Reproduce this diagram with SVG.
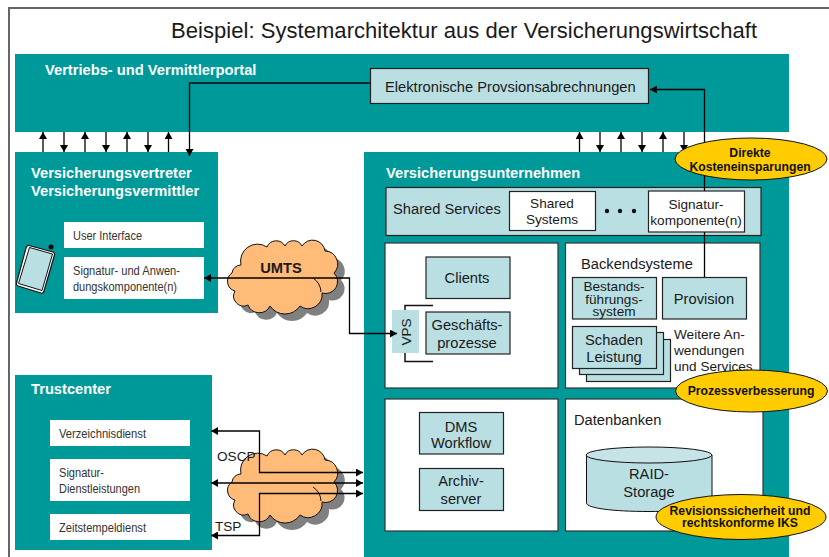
<svg xmlns="http://www.w3.org/2000/svg" xmlns:xlink="http://www.w3.org/1999/xlink" width="829" height="557" viewBox="0 0 829 557">
<style>
text{font-family:"Liberation Sans",Arial,sans-serif;fill:#1a1a1a;font-size:14.7px}
.t{fill:#009999}
.w{fill:#fff}
.b{fill:#b9dfe2;stroke:#222;stroke-width:1.2}
.p{fill:#fff;stroke:#333;stroke-width:1.2}
.h{fill:#fff;font-weight:bold;font-size:14.7px}
.s{font-size:13px;fill:#333}
.n{font-size:13.6px}
.m{text-anchor:middle}
.y{fill:#ffcc00;stroke:#111;stroke-width:1}
.yt{font-weight:bold;font-size:12.2px;text-anchor:middle;fill:#111}
.c{fill:none;stroke:#000;stroke-width:1.3}
</style>
<defs>
<marker id="a" markerUnits="userSpaceOnUse" markerWidth="8" markerHeight="8" refX="7" refY="4" orient="auto-start-reverse"><path d="M0 0L7 4L0 8z" fill="#000"/></marker>
<path id="cloud" d="M1 31A9 9 0 0 1 10 23A17 17 0 0 1 36 5A10 10 0 0 1 54 4A9.500 9.500 0 0 1 71 4A12.500 12.500 0 0 1 94 9A13 13 0 0 1 103 31A12 12 0 0 1 91 51A14 14 0 0 1 69 64A18 18 0 0 1 39 64A12 12 0 0 1 17 63A10 10 0 0 1 4 49A10 10 0 0 1 1 31Z"/>
</defs>
<rect width="829" height="557" fill="#fff"/>
<path id="frame" d="M829 8H9V557" fill="none" stroke="#666" stroke-width="2"/>
<text x="171" y="38" style="font-size:22px" textLength="586">Beispiel: Systemarchitektur aus der Versicherungswirtschaft</text>

<g id="portal">
<rect class="t" x="15" y="54" width="774" height="78"/>
<text class="h" x="45" y="75">Vertriebs- und Vermittlerportal</text>
</g>
<g id="provisionsabrechnungen">
<rect class="b" x="370.500" y="68.500" width="278" height="35"/>
<text x="385" y="92">Elektronische Provsionsabrechnungen</text>
</g>

<g id="vertreter">
<rect class="t" x="15" y="152" width="203" height="161"/>
<text class="h" x="31" y="178">Versicherungsvertreter</text>
<text class="h" x="31" y="196">Versicherungsvermittler</text>
<rect class="w" x="64" y="222" width="140" height="26"/>
<text class="s" x="73" y="240" textLength="69" lengthAdjust="spacingAndGlyphs">User Interface</text>
<rect class="w" x="64" y="257" width="140" height="42"/>
<text class="s" x="73" y="275" textLength="107" lengthAdjust="spacingAndGlyphs">Signatur- und Anwen-</text>
<text class="s" x="73" y="291" textLength="104" lengthAdjust="spacingAndGlyphs">dungskomponente(n)</text>
</g>
<g id="phone">
<circle cx="51" cy="247" r="2.500" fill="#000"/>
<path d="M29 245.500L53 252Q55 253 54.500 255L44 291Q43 294 41 293L18 286Q16 285 16.500 283L26 248Q27 245 29 245.500Z" fill="#fff" stroke="#111" stroke-width="1.200"/>
<path d="M29.500 247.500L52.500 254L42 290.500L18.500 283.500Z" fill="#b9dfe2" stroke="#111" stroke-width="1"/>
</g>

<g id="trustcenter">
<rect class="t" x="15" y="375" width="197" height="175"/>
<text class="h" x="31" y="394">Trustcenter</text>
<rect class="w" x="50" y="420" width="140" height="26"/>
<text class="s" x="59" y="438" textLength="87" lengthAdjust="spacingAndGlyphs">Verzeichnisdienst</text>
<rect class="w" x="50" y="459" width="140" height="42"/>
<text class="s" x="59" y="477" textLength="45" lengthAdjust="spacingAndGlyphs">Signatur-</text>
<text class="s" x="59" y="493" textLength="81" lengthAdjust="spacingAndGlyphs">Dienstleistungen</text>
<rect class="w" x="50" y="514" width="140" height="26"/>
<text class="s" x="59" y="532" textLength="87" lengthAdjust="spacingAndGlyphs">Zeitstempeldienst</text>
</g>

<g id="unternehmen">
<rect class="t" x="364" y="152" width="425" height="405"/>
<text class="h" x="386" y="178">Versicherungsunternehmen</text>
</g>
<g id="shared-services">
<rect class="b" x="386" y="187.500" width="375" height="48"/>
<text x="393" y="214">Shared Services</text>
<rect x="509.500" y="191.500" width="86" height="39" fill="#fff" stroke="#222" stroke-width="1.200"/>
<text class="m n" x="552" y="208">Shared</text>
<text class="m n" x="552" y="224">Systems</text>
<circle cx="607" cy="211" r="2.200" fill="#111"/><circle cx="620" cy="211" r="2.200" fill="#111"/><circle cx="634" cy="211" r="2.200" fill="#111"/>
<rect x="648.500" y="191" width="96" height="41" fill="#fff" stroke="#222" stroke-width="1.200"/>
<text class="m n" x="696" y="209">Signatur-</text>
<text class="m n" x="696" y="225">komponente(n)</text>
</g>
<g id="clients-panel">
<rect class="p" x="385" y="243" width="173" height="145"/>
<rect class="b" x="426" y="257" width="84" height="41.500"/>
<text class="m" x="467" y="283">Clients</text>
<rect class="b" x="426" y="312" width="84" height="42"/>
<text class="m" x="467" y="330">Geschäfts-</text>
<text class="m" x="467" y="348">prozesse</text>
<path d="M405 310V305.500H433M405 353V361.500H433" fill="none" stroke="#111" stroke-width="1.500"/>
<rect x="392" y="310" width="27" height="43" fill="#b9dfe2"/>
<text class="m n" transform="translate(411 332) rotate(-90)">VPS</text>
</g>
<g id="backend-panel">
<rect class="p" x="565.500" y="243" width="194.500" height="145"/>
<text x="581" y="269">Backendsysteme</text>
<rect class="b" x="572.500" y="277.500" width="84" height="41.500"/>
<text class="m n" x="614" y="291">Bestands-</text>
<text class="m n" x="614" y="304">führungs-</text>
<text class="m n" x="614" y="316">system</text>
<rect class="b" x="662.500" y="277.500" width="84" height="41.500"/>
<text class="m" x="704" y="304">Provision</text>
<rect class="b" x="586.500" y="339.500" width="84" height="42"/>
<rect class="b" x="579.500" y="332.500" width="84" height="42"/>
<rect class="b" x="572.500" y="326.500" width="84" height="42"/>
<text class="m" x="614" y="345">Schaden</text>
<text class="m" x="614" y="362">Leistung</text>
<text class="n" x="674" y="339">Weitere An-</text>
<text class="n" x="674" y="355">wendungen</text>
<text class="n" x="674" y="371">und Services</text>
</g>
<g id="dms-panel">
<rect class="p" x="385" y="399" width="173" height="132"/>
<rect class="b" x="419.500" y="412.500" width="84" height="41.500"/>
<text class="m" x="461" y="432">DMS</text>
<text class="m" x="461" y="448">Workflow</text>
<rect class="b" x="419.500" y="468.500" width="84" height="42"/>
<text class="m" x="461" y="486">Archiv-</text>
<text class="m" x="461" y="504">server</text>
</g>
<g id="datenbanken-panel">
<rect class="p" x="565.500" y="399" width="197.500" height="132"/>
<text x="574" y="425">Datenbanken</text>
<path d="M586.500 455V503C586.500 508 612 511.500 649 511.500S712 508 712 503V455Z" fill="#b9dfe2" stroke="#111" stroke-width="1"/>
<ellipse cx="649" cy="455" rx="63" ry="8" fill="#c6e4e7" stroke="#111" stroke-width="1"/>
<text class="m" x="649" y="479">RAID-</text>
<text class="m" x="649" y="497">Storage</text>
</g>

<g id="cloud-umts">
<use xlink:href="#cloud" href="#cloud" x="238" y="249" fill="#808080"/>
<use xlink:href="#cloud" href="#cloud" x="231" y="242" fill="#ffbb77" stroke="#111" stroke-width="1"/>
<path d="M313 278A18 18 0 0 1 321 292" fill="none" stroke="#111"/>
<text class="m" x="281" y="273" style="font-weight:bold">UMTS</text>
</g>
<g id="cloud-tsp">
<use xlink:href="#cloud" href="#cloud" x="238" y="458" fill="#808080"/>
<use xlink:href="#cloud" href="#cloud" x="231" y="451" fill="#ffbb77" stroke="#111" stroke-width="1"/>
<path d="M313 487A18 18 0 0 1 321 501" fill="none" stroke="#111"/>
</g>
<text class="n" x="217" y="461">OSCP</text>
<text class="n" x="215" y="531">TSP</text>

<g id="connectors">
<path class="c" marker-end="url(#a)" d="M43 152V132"/>
<path class="c" marker-end="url(#a)" d="M64 132V152"/>
<path class="c" marker-end="url(#a)" d="M85 152V132"/>
<path class="c" marker-end="url(#a)" d="M106 132V152"/>
<path class="c" marker-end="url(#a)" d="M127 152V132"/>
<path class="c" marker-end="url(#a)" d="M148 132V152"/>
<path class="c" marker-end="url(#a)" d="M168.500 152V132"/>
<path class="c" marker-end="url(#a)" d="M370 83H189.500V156"/>
<path class="c" marker-end="url(#a)" d="M579.500 152V132"/>
<path class="c" marker-end="url(#a)" d="M600 132V152"/>
<path class="c" marker-end="url(#a)" d="M621 152V132"/>
<path class="c" marker-end="url(#a)" d="M642 132V152"/>
<path class="c" marker-end="url(#a)" d="M663 152V132"/>
<path class="c" marker-end="url(#a)" d="M684 132V152"/>
<path class="c" marker-end="url(#a)" d="M704.500 191V89.500H650"/>
<path class="c" d="M704.500 232V277"/>
<path class="c" marker-start="url(#a)" marker-end="url(#a)" d="M204 278H349.500V333.500H397"/>
<path class="c" marker-start="url(#a)" marker-end="url(#a)" d="M211 431H259.500V472.500H363"/>
<path class="c" marker-start="url(#a)" marker-end="url(#a)" d="M211 483H363"/>
<path class="c" marker-start="url(#a)" marker-end="url(#a)" d="M211 535.500H259.500V493.500H363"/>
</g>

<g id="direkte">
<ellipse class="y" cx="751" cy="159" rx="76" ry="21"/>
<text class="yt" x="750" y="157">Direkte</text>
<text class="yt" x="750" y="171">Kosteneinsparungen</text>
</g>
<g id="prozess">
<ellipse class="y" cx="751.500" cy="391" rx="76" ry="21"/>
<text class="yt" x="751" y="395">Prozessverbesserung</text>
</g>
<g id="revision">
<ellipse class="y" cx="741" cy="517" rx="85" ry="22.500"/>
<text class="yt" x="740" y="515">Revisionssicherheit und</text>
<text class="yt" x="740" y="527">rechtskonforme IKS</text>
</g>
</svg>
